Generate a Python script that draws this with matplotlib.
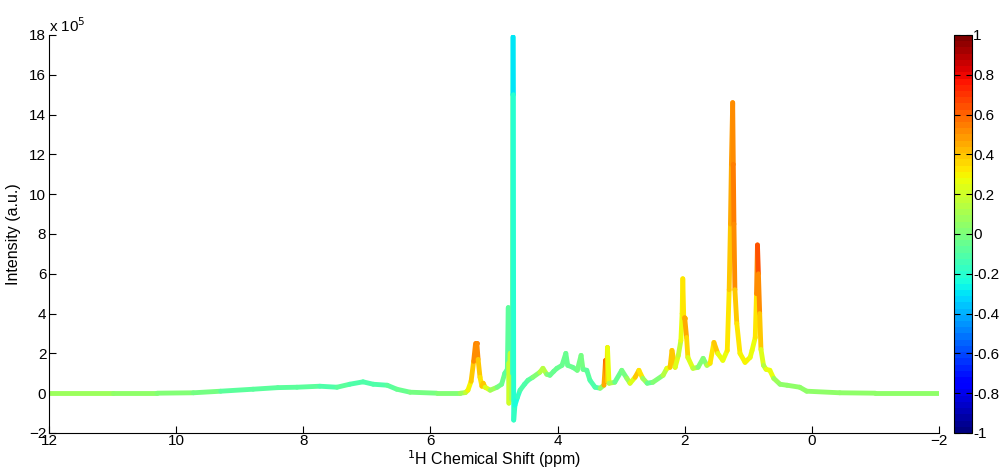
import numpy as np
import matplotlib
matplotlib.use('Agg')
import matplotlib.pyplot as plt
from matplotlib.collections import LineCollection
from matplotlib.colors import Normalize

plt.rcParams['font.family'] = ['Liberation Sans', 'DejaVu Sans']
plt.rcParams['font.size'] = 10.5

# 化学位移 (ppm)
ppm = [12.00, 11.00, 10.30, 9.73, 9.30, 8.79, 8.40, 8.10, 7.74, 7.47, 7.27, 7.06, 6.90,
       6.68, 6.53, 6.32, 5.90, 5.53, 5.45, 5.41, 5.36, 5.32, 5.29, 5.27, 5.25, 5.22,
       5.19, 5.17, 5.14, 5.06, 4.95, 4.88, 4.83, 4.79, 4.775, 4.771, 4.765, 4.745, 4.725,
       4.71, 4.705, 4.70, 4.695, 4.69, 4.67, 4.63, 4.59, 4.52, 4.465, 4.39, 4.28,
       4.23, 4.17, 4.12, 4.06, 4.01, 3.93, 3.87, 3.84, 3.76, 3.69, 3.63, 3.60, 3.54,
       3.49, 3.41, 3.33, 3.27, 3.245, 3.225, 3.215, 3.19, 3.10, 2.99, 2.91, 2.86,
       2.78, 2.72, 2.66, 2.59, 2.50, 2.34, 2.28, 2.23, 2.20, 2.15, 2.10, 2.06, 2.04,
       2.03, 2.015, 2.00, 1.97, 1.95, 1.87, 1.79, 1.71, 1.65, 1.60, 1.54, 1.48, 1.40,
       1.33, 1.30, 1.28, 1.265, 1.245, 1.235, 1.225, 1.21, 1.18, 1.13, 1.05, 1.02,
       0.97, 0.94, 0.89, 0.87, 0.855, 0.84, 0.82, 0.80, 0.76, 0.72, 0.66, 0.60, 0.50,
       0.39, 0.19, 0.08, -0.44, -1.00, -2.00]

# 强度 (x 10^5)
intensity = [0.00, 0.00, 0.00, 0.02, 0.10, 0.20, 0.28, 0.30, 0.35, 0.30, 0.45, 0.57, 0.45,
             0.40, 0.20, 0.05, 0.00, 0.00, 0.03, 0.15, 0.60, 1.60, 2.50, 2.50, 1.70, 0.80,
             0.35, 0.50, 0.30, 0.15, 0.30, 0.45, 1.00, 1.20, 4.30, 1.50, -0.50, 2.00, -0.30,
             1.00, 15.0, 17.9, 15.0, -1.35, -0.60, -0.20, 0.15, 0.45, 0.65, 0.80, 1.05,
             1.25, 0.95, 0.90, 1.10, 1.25, 1.40, 2.00, 1.40, 1.30, 1.15, 1.90, 1.20, 1.15,
             0.65, 0.30, 0.25, 0.40, 1.65, 0.60, 2.30, 0.50, 0.55, 1.15, 0.75, 0.50,
             0.80, 1.15, 0.75, 0.50, 0.55, 0.90, 1.25, 1.30, 2.15, 1.30, 1.90, 2.65, 4.00,
             5.75, 3.80, 3.80, 2.80, 1.80, 1.25, 1.30, 1.75, 1.40, 1.50, 2.55, 2.00, 1.65,
             2.15, 5.20, 8.50, 11.5, 14.6, 11.5, 8.50, 5.20, 3.50, 2.00, 1.55, 1.65,
             1.80, 2.15, 2.80, 5.00, 7.45, 6.00, 4.00, 2.20, 1.40, 1.20, 1.15, 0.75, 0.45,
             0.40, 0.30, 0.10, 0.02, 0.00, 0.00]

# 相关系数
corr = [0.08, 0.06, 0.05, 0.00, -0.05, -0.08, -0.10, -0.08, -0.10, -0.10, -0.08, -0.12, -0.10,
        -0.10, -0.08, -0.02, 0.00, 0.05, 0.10, 0.25, 0.35, 0.45, 0.55, 0.60, 0.45, 0.35,
        0.30, 0.50, 0.30, 0.15, 0.00, -0.05, -0.05, -0.08, -0.10, -0.05, 0.35, 0.05, 0.30,
        -0.10, -0.10, -0.30, -0.30, -0.12, -0.25, -0.20, -0.15, -0.10, -0.10, -0.05, 0.10,
        0.20, 0.05, -0.05, -0.05, -0.05, -0.05, -0.05, -0.05, -0.05, -0.05, 0.00, -0.05, -0.05,
        -0.10, -0.15, -0.10, 0.20, 0.70, 0.50, 0.30, 0.25, -0.05, -0.05, 0.00, 0.15,
        0.30, 0.45, 0.20, -0.05, -0.05, 0.05, 0.20, 0.30, 0.45, 0.30, 0.15, 0.20, 0.30,
        0.30, 0.35, 0.50, 0.40, 0.30, 0.15, 0.10, -0.05, 0.05, 0.20, 0.45, 0.30, 0.25,
        0.30, 0.35, 0.40, 0.50, 0.45, 0.55, 0.55, 0.45, 0.35, 0.30, 0.30, 0.30,
        0.30, 0.25, 0.25, 0.40, 0.65, 0.60, 0.45, 0.30, 0.15, 0.10, 0.45, 0.10, 0.05,
        0.05, 0.05, 0.05, 0.05, 0.05, 0.05]

x = np.array(ppm)
y = np.array(intensity)
c = np.array(corr)

fig = plt.figure(figsize=(10.01, 4.71), dpi=100)
ax = fig.add_axes([0.049, 0.0807, 0.889, 0.845])
cax = fig.add_axes([0.953, 0.0807, 0.018, 0.845])

cmap = plt.get_cmap('jet', 64)
norm = Normalize(-1, 1)

# 按相关系数着色的谱线
pts = np.column_stack([x, y]).reshape(-1, 1, 2)
segs = np.concatenate([pts[:-1], pts[1:]], axis=1)
lc = LineCollection(segs, cmap=cmap, norm=norm, linewidths=3.5, capstyle='round',
                    joinstyle='round')
lc.set_array((c[:-1] + c[1:]) / 2)
ax.add_collection(lc)

ax.set_xlim(12, -2)
ax.set_ylim(-2, 18)
ax.set_xticks(np.arange(12, -3, -2))
ax.set_yticks(np.arange(-2, 19, 2))
ax.spines['top'].set_visible(False)
ax.spines['right'].set_visible(False)
ax.tick_params(direction='in', length=5, width=0.8, labelsize=11)
ax.tick_params(axis='x', pad=1)
ax.tick_params(axis='y', pad=2)
ax.set_xlabel('$^1$H Chemical Shift (ppm)', labelpad=0, fontsize=11.5)
ax.set_ylabel('Intensity (a.u.)', labelpad=6, fontsize=11.5)
ax.text(0.0, 1.0, 'x 10$^5$', transform=ax.transAxes, ha='left', va='bottom', fontsize=11)

sm = plt.cm.ScalarMappable(cmap=cmap, norm=norm)
cb = fig.colorbar(sm, cax=cax)
cb.set_ticks(np.round(np.arange(-1, 1.01, 0.2), 1))
cb.set_ticklabels(['-1', '-0.8', '-0.6', '-0.4', '-0.2', '0', '0.2', '0.4', '0.6', '0.8', '1'])
cax.tick_params(direction='in', left=True, right=True, length=4, width=0.8,
                labelsize=11, pad=1)
cb.outline.set_linewidth(0.8)

fig.savefig('out.png', dpi=100)
